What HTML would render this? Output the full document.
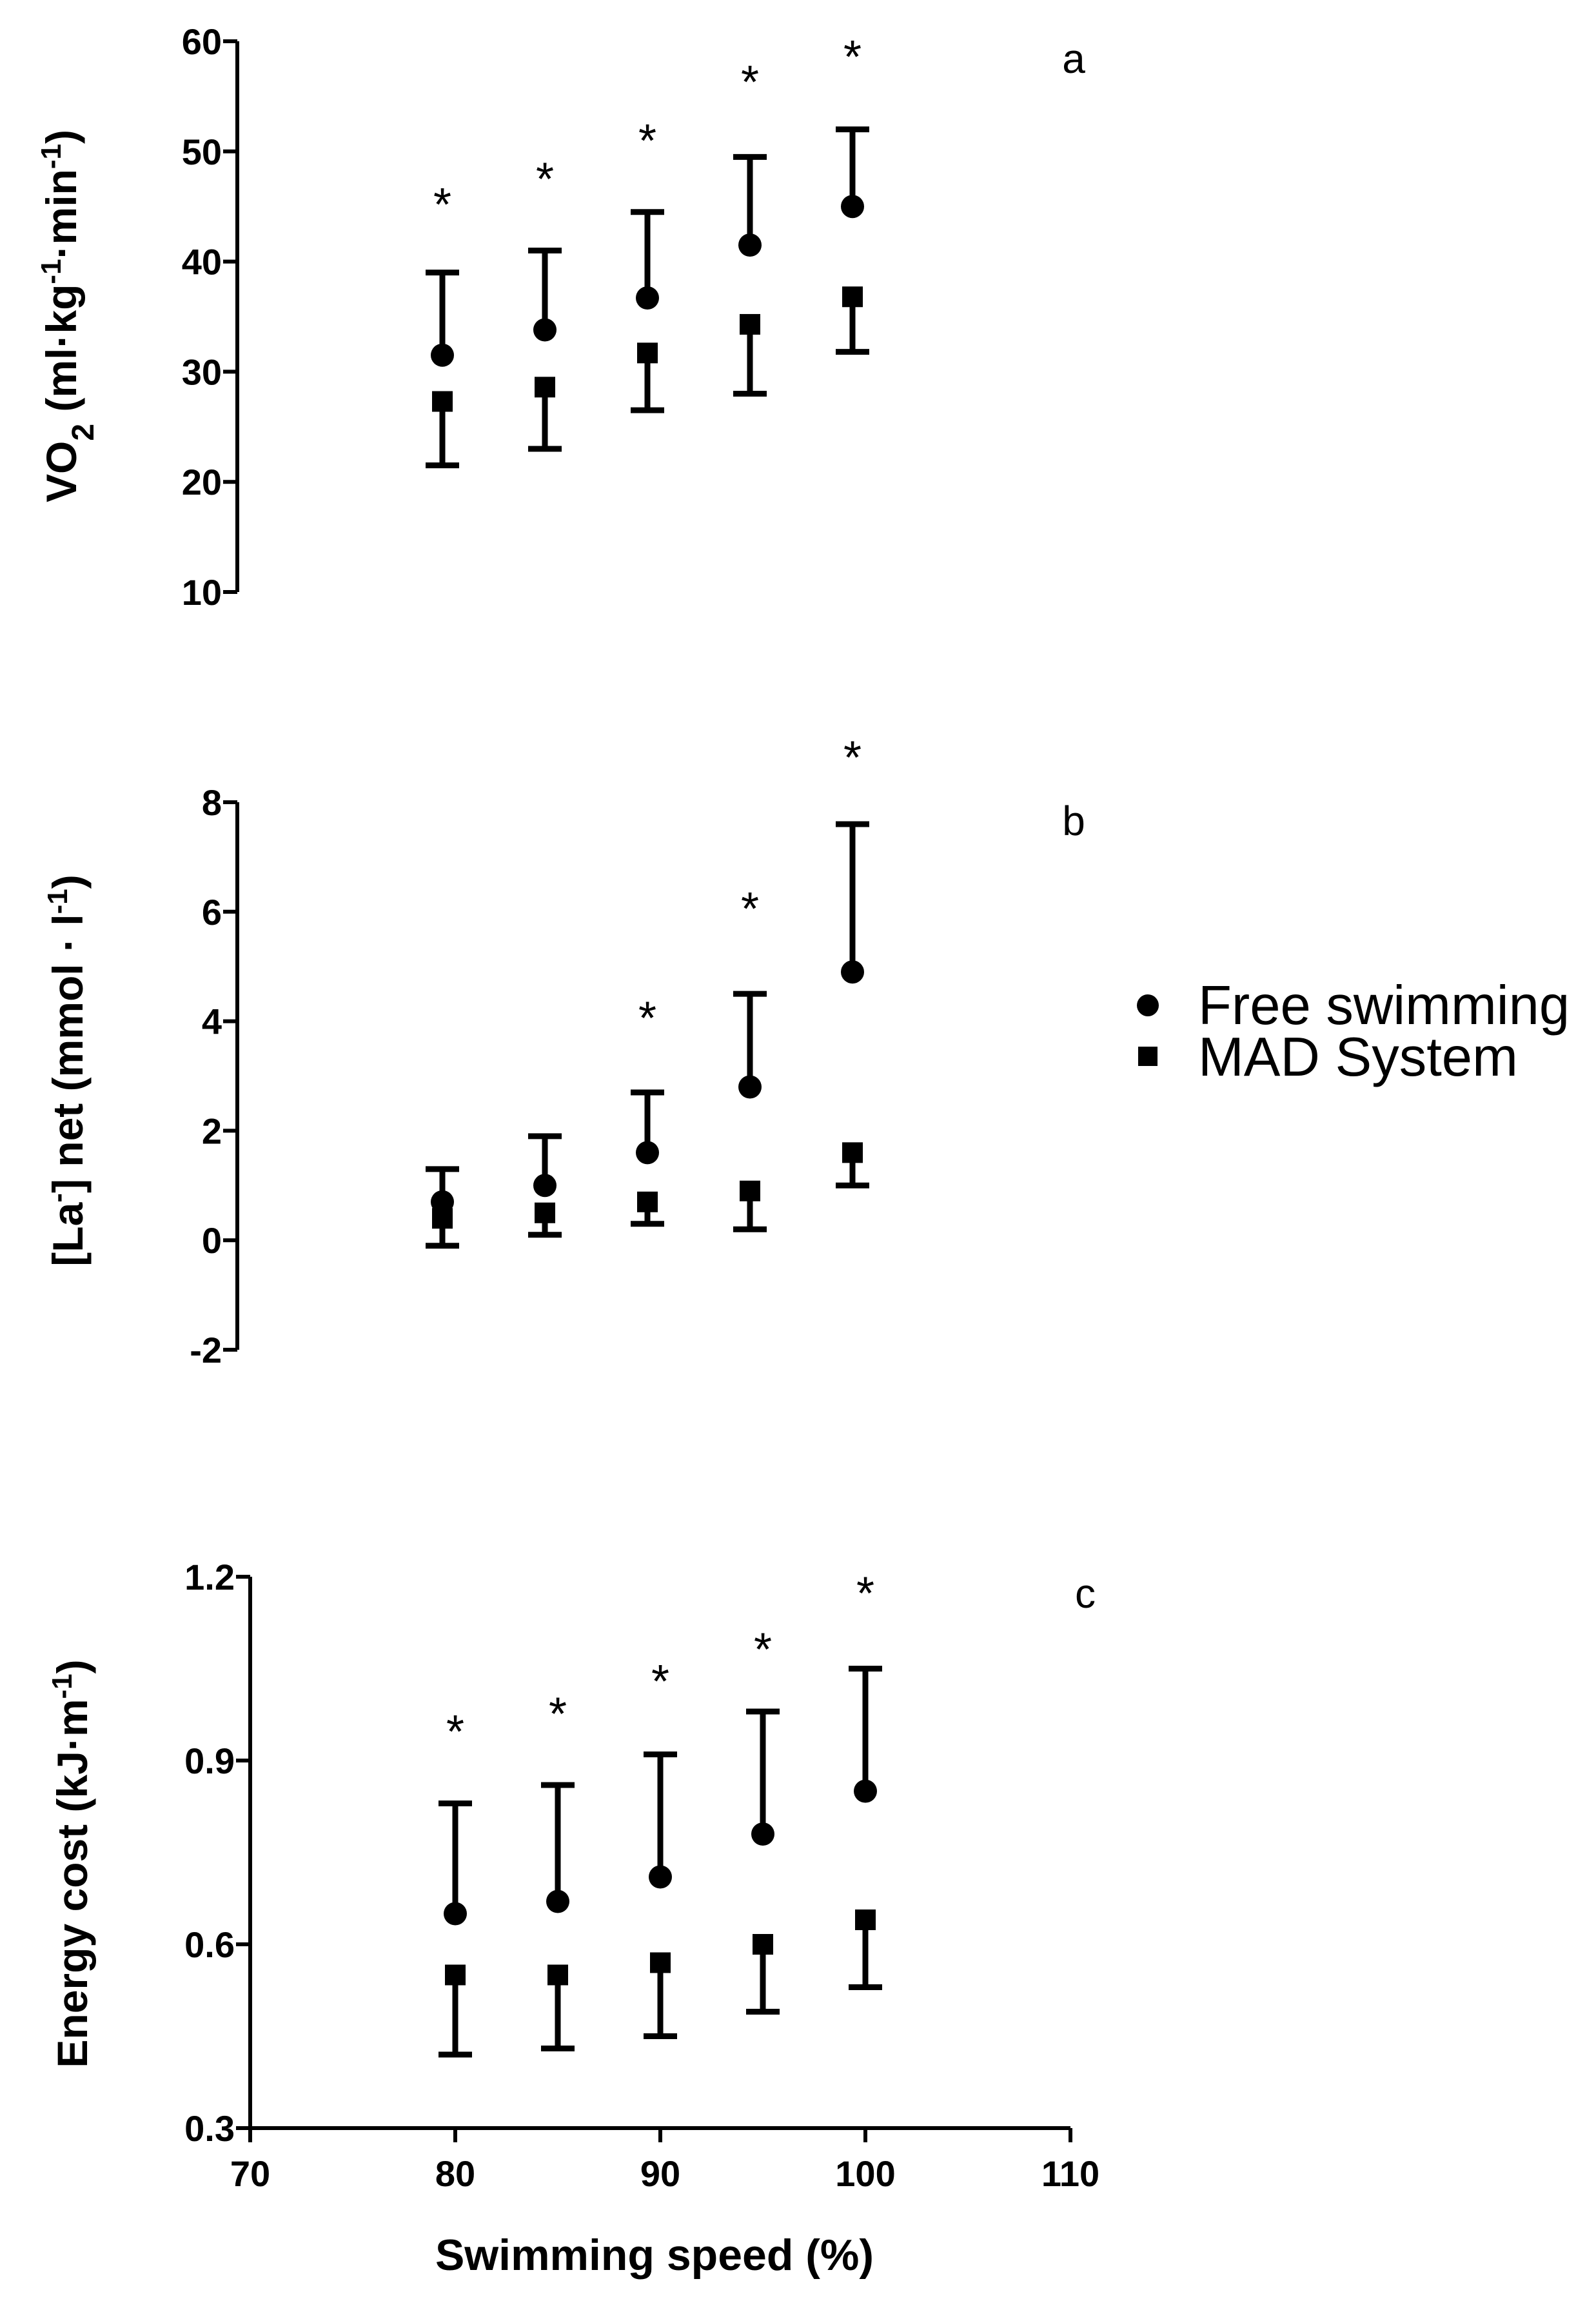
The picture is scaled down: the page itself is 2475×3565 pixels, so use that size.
<!DOCTYPE html>
<html><head><meta charset="utf-8"><style>
html,body{margin:0;padding:0;background:#fff}
svg{display:block}
text{font-family:"Liberation Sans Narrow","Liberation Sans",sans-serif;fill:#000}
.tick{font-weight:bold;font-size:56px}
.title{font-family:"Liberation Sans",sans-serif;font-weight:bold;font-size:66px}
.leg{font-family:"Liberation Sans",sans-serif;font-size:85px}
.let{font-family:"Liberation Sans",sans-serif;font-size:64px}
.ast{font-family:"Liberation Sans",sans-serif;font-size:72px}
</style></head><body>
<svg id="chart" width="2475" height="3565" viewBox="0 0 2475 3565" xmlns="http://www.w3.org/2000/svg">
<g id="legend">
<circle cx="1780" cy="1559" r="17"/>
<text class="leg" x="1858" y="1588">Free swimming</text>
<rect x="1765" y="1623" width="30" height="30"/>
<text class="leg" x="1858" y="1668">MAD System</text>
</g>
<text class="title" x="1015" y="3520" text-anchor="middle" style="font-size:68px">Swimming speed  (%)</text>
</svg>
<script>
const speeds = [80, 85, 90, 95, 100];
const vo2Free = [31.5, 33.8, 36.7, 41.5, 45];
const vo2FreeUpper = [39, 41, 44.5, 49.5, 52];
const vo2Mad = [27.3, 28.6, 31.7, 34.3, 36.8];
const vo2MadLower = [21.5, 23, 26.5, 28, 31.8];
const vo2Star = [45.9, 48.2, 51.7, 57, 59.3];
const vo2Ticks = [10, 20, 30, 40, 50, 60];
const laFree = [0.7, 1.0, 1.6, 2.8, 4.9];
const laFreeUpper = [1.3, 1.9, 2.7, 4.5, 7.6];
const laMad = [0.4, 0.5, 0.7, 0.9, 1.6];
const laMadLower = [-0.1, 0.1, 0.3, 0.2, 1.0];
const laStar = [null, null, 4.2, 6.2, 8.96];
const laTicks = [-2, 0, 2, 4, 6, 8];
const ecFree = [0.65, 0.67, 0.71, 0.78, 0.85];
const ecFreeUpper = [0.83, 0.86, 0.91, 0.98, 1.05];
const ecMad = [0.55, 0.55, 0.57, 0.60, 0.64];
const ecMadLower = [0.42, 0.43, 0.45, 0.49, 0.53];
const ecStar = [0.96, 0.989, 1.042, 1.094, 1.186];
const ecTicks = ["0.3", "0.6", "0.9", "1.2"];
const xTicks = [70, 80, 90, 100, 110];

const NS = "http://www.w3.org/2000/svg";
const svg = document.getElementById('chart');
function mk(tag, attrs, parent) {
  const e = document.createElementNS(NS, tag);
  for (const k in attrs) e.setAttribute(k, attrs[k]);
  (parent || svg).appendChild(e);
  return e;
}
function panel(cfg) {
  const g = mk('g', {});
  
  
  const x = v => cfg.x0 + (v - 70) / 40 * (cfg.x1 - cfg.x0);
  const y = v => cfg.yTop + (cfg.vMax - v) / (cfg.vMax - cfg.vMin) * (cfg.yBot - cfg.yTop);
  const ax = mk('line', {x1: cfg.x0, x2: cfg.x0, y1: cfg.yTop, y2: cfg.yBot, stroke: '#000', 'stroke-width': 6}, g);
  
  
  cfg.ticks.forEach(t => {
    const v = parseFloat(t);
    const tl = mk('line', {x1: cfg.x0 - 22, x2: cfg.x0, y1: y(v), y2: y(v), stroke: '#000', 'stroke-width': 6}, g);
    
    
    const tx = mk('text', {x: cfg.x0 - 24, y: y(v) + 20, 'text-anchor': 'end', class: 'tick'}, g);
    
    
    tx.textContent = t;
  });
  if (cfg.xAxis) {
    const xl = mk('line', {x1: cfg.x0, x2: cfg.x1, y1: cfg.yBot, y2: cfg.yBot, stroke: '#000', 'stroke-width': 6}, g);
    
    
    xTicks.forEach(t => {
      const tl = mk('line', {x1: x(t), x2: x(t), y1: cfg.yBot, y2: cfg.yBot + 22, stroke: '#000', 'stroke-width': 6}, g);
      
      
      const tx = mk('text', {x: x(t), y: cfg.yBot + 90, 'text-anchor': 'middle', class: 'tick'}, g);
      
      
      tx.textContent = t;
    });
  }
  speeds.forEach((s, i) => {
    const cx = x(s);
    const e1 = mk('path', {d: `M${cx},${y(cfg.free[i])}V${y(cfg.freeUp[i])}M${cx-26},${y(cfg.freeUp[i])}H${cx+26}`, stroke: '#000', 'stroke-width': 9, fill: 'none'}, g);
    
    
    const e2 = mk('path', {d: `M${cx},${y(cfg.mad[i])}V${y(cfg.madLo[i])}M${cx-26},${y(cfg.madLo[i])}H${cx+26}`, stroke: '#000', 'stroke-width': 9, fill: 'none'}, g);
    
    
    const c = mk('circle', {cx: cx, cy: y(cfg.free[i]), r: 18}, g);
    
    
    const r = mk('rect', {x: cx - 16, y: y(cfg.mad[i]) - 16, width: 32, height: 32}, g);
    
    
    if (cfg.star[i] !== null) {
      const a = mk('text', {x: cx, y: y(cfg.star[i]) + 37, 'text-anchor': 'middle', class: 'ast'}, g);
      
      
      a.textContent = '*';
    }
  });
  const L = mk('text', {x: cfg.letX, y: cfg.letY, class: 'let', 'text-anchor': 'middle'}, g);
  
  
  L.textContent = cfg.letter;
  const T = mk('text', {x: 0, y: 0, class: 'title', 'text-anchor': 'middle', transform: `translate(${cfg.titleX},${cfg.titleY}) rotate(-90)`}, g);
  
  
  T.innerHTML = cfg.title;
}
panel({name: 'panel-a-vo2', x0: 368, x1: 1640, yTop: 64, yBot: 918, vMin: 10, vMax: 60, ticks: vo2Ticks.map(String),
  free: vo2Free, freeUp: vo2FreeUpper, mad: vo2Mad, madLo: vo2MadLower, star: vo2Star,
  letter: 'a', letX: 1665, letY: 113, titleX: 118, titleY: 490,
  title: 'VO<tspan baseline-shift="sub" font-size="48">2</tspan>  (ml·kg<tspan baseline-shift="super" font-size="44">-1</tspan>·min<tspan baseline-shift="super" font-size="44">-1</tspan>)'});
panel({name: 'panel-b-lactate', x0: 368, x1: 1640, yTop: 1244, yBot: 2093, vMin: -2, vMax: 8, ticks: laTicks.map(String),
  free: laFree, freeUp: laFreeUpper, mad: laMad, madLo: laMadLower, star: laStar,
  letter: 'b', letX: 1665, letY: 1295, titleX: 128, titleY: 1660,
  title: '[La<tspan baseline-shift="super" font-size="44">-</tspan>] net (mmol · l<tspan baseline-shift="super" font-size="44">-1</tspan>)'});
panel({name: 'panel-c-energy-cost', x0: 388, x1: 1660, yTop: 2445, yBot: 3300, vMin: 0.3, vMax: 1.2, ticks: ecTicks, xAxis: true,
  free: ecFree, freeUp: ecFreeUpper, mad: ecMad, madLo: ecMadLower, star: ecStar,
  letter: 'c', letX: 1683, letY: 2493, titleX: 135, titleY: 2890,
  title: 'Energy cost (kJ·m<tspan baseline-shift="super" font-size="44">-1</tspan>)'});
</script>
</body></html>
